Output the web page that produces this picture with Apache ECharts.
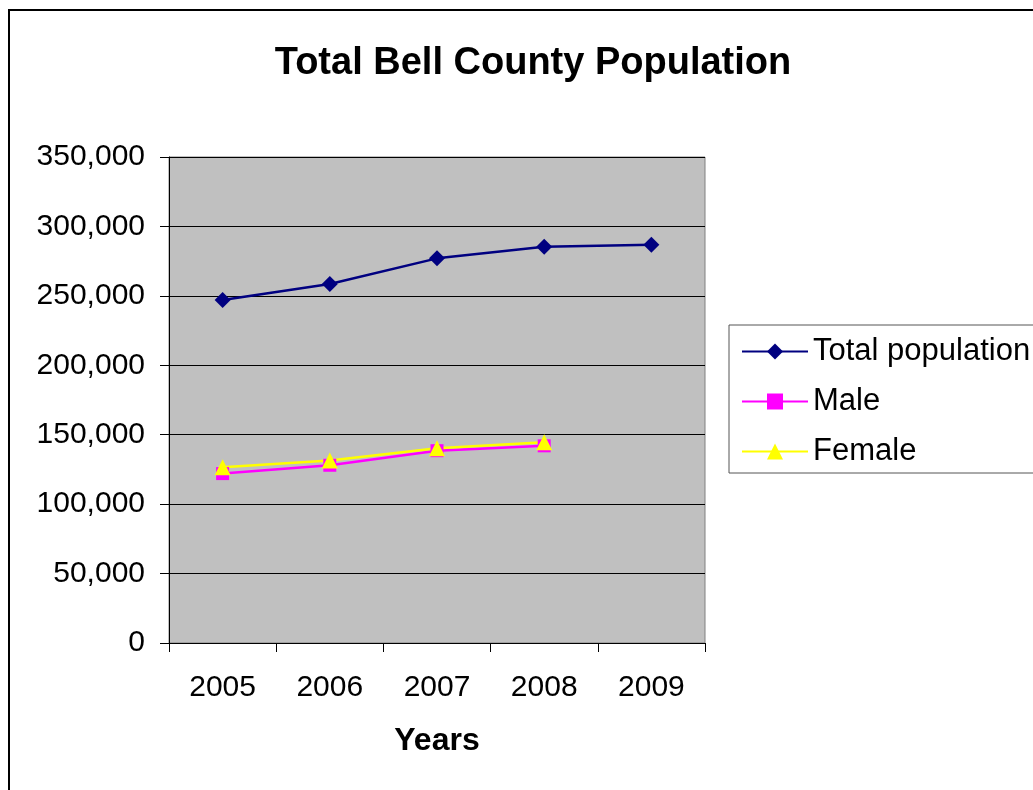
<!DOCTYPE html>
<html>
<head>
<meta charset="utf-8">
<script src="https://cdn.jsdelivr.net/npm/echarts@6/dist/echarts.min.js"></script>
<style>
html,body{margin:0;padding:0;background:#fff;}
#chart{width:1033px;height:790px;}
</style>
</head>
<body>
<div id="chart"></div>
<script>
const years = ['2005', '2006', '2007', '2008', '2009'];
const totalPopulation = [247000, 258500, 277000, 285300, 286800];
const male = [122000, 128000, 138500, 142000, null];
const female = [126500, 131500, 140300, 144500, null];
const yTicks = { min: 0, max: 350000, interval: 50000 };

const FONT = "'Liberation Sans', Arial, sans-serif";
const chart = echarts.init(document.getElementById('chart'), null, { renderer: 'canvas' });

chart.setOption({
  backgroundColor: '#fff',
  animation: false,
  title: {
    text: 'Total Bell County Population',
    left: 528, top: 40, textAlign: 'center',
    textStyle: { fontFamily: FONT, fontSize: 38, fontWeight: 'bold', color: '#000' }
  },
  graphic: [{
    type: 'rect', silent: true, z: -1,
    shape: { x: 9, y: 10, width: 1040, height: 800 },
    style: { fill: 'none', stroke: '#000', lineWidth: 2 }
  }],
  legend: {
    orient: 'vertical',
    left: 729, top: 325,
    padding: [11, 120, 6, 12],
    itemWidth: 66, itemHeight: 20, itemGap: 19,
    borderColor: '#555', borderWidth: 1,
    textStyle: { fontFamily: FONT, fontSize: 31, color: '#000' },
    data: ['Total population', 'Male', 'Female']
  },
  grid: {
    left: 169, top: 157, right: 328, bottom: 147,
    show: true, backgroundColor: '#C0C0C0', borderColor: '#808080', borderWidth: 1
  },
  xAxis: {
    type: 'category', data: years, boundaryGap: true,
    name: 'Years', nameLocation: 'middle', nameGap: 82,
    nameTextStyle: { fontFamily: FONT, fontSize: 32, fontWeight: 'bold', color: '#000' },
    axisLine: { show: true, lineStyle: { color: '#000', width: 1 } },
    axisTick: { show: true, length: 9, lineStyle: { color: '#000' } },
    axisLabel: { fontFamily: FONT, fontSize: 30, color: '#000', margin: 30 },
    splitLine: { show: false }
  },
  yAxis: {
    type: 'value', min: yTicks.min, max: yTicks.max, interval: yTicks.interval,
    axisLine: { show: true, lineStyle: { color: '#000', width: 1 } },
    axisTick: { show: true, length: 9, lineStyle: { color: '#000' } },
    axisLabel: {
      fontFamily: FONT, fontSize: 30, color: '#000', margin: 24,
      padding: [5, 0, 0, 0],
      formatter: v => v.toLocaleString('en-US')
    },
    splitLine: { show: true, lineStyle: { color: '#000', width: 1 } }
  },
  series: [
    {
      name: 'Total population', type: 'line', data: totalPopulation,
      symbol: 'diamond', symbolSize: 16,
      itemStyle: { color: '#000080' },
      lineStyle: { color: '#000080', width: 2.5 }
    },
    {
      name: 'Male', type: 'line', data: male,
      symbol: 'rect', symbolSize: 13,
      itemStyle: { color: '#FF00FF' },
      lineStyle: { color: '#FF00FF', width: 2.5 }
    },
    {
      name: 'Female', type: 'line', data: female,
      symbol: 'triangle', symbolSize: 16,
      itemStyle: { color: '#FFFF00' },
      lineStyle: { color: '#FFFF00', width: 2.5 }
    }
  ]
});
</script>
</body>
</html>
